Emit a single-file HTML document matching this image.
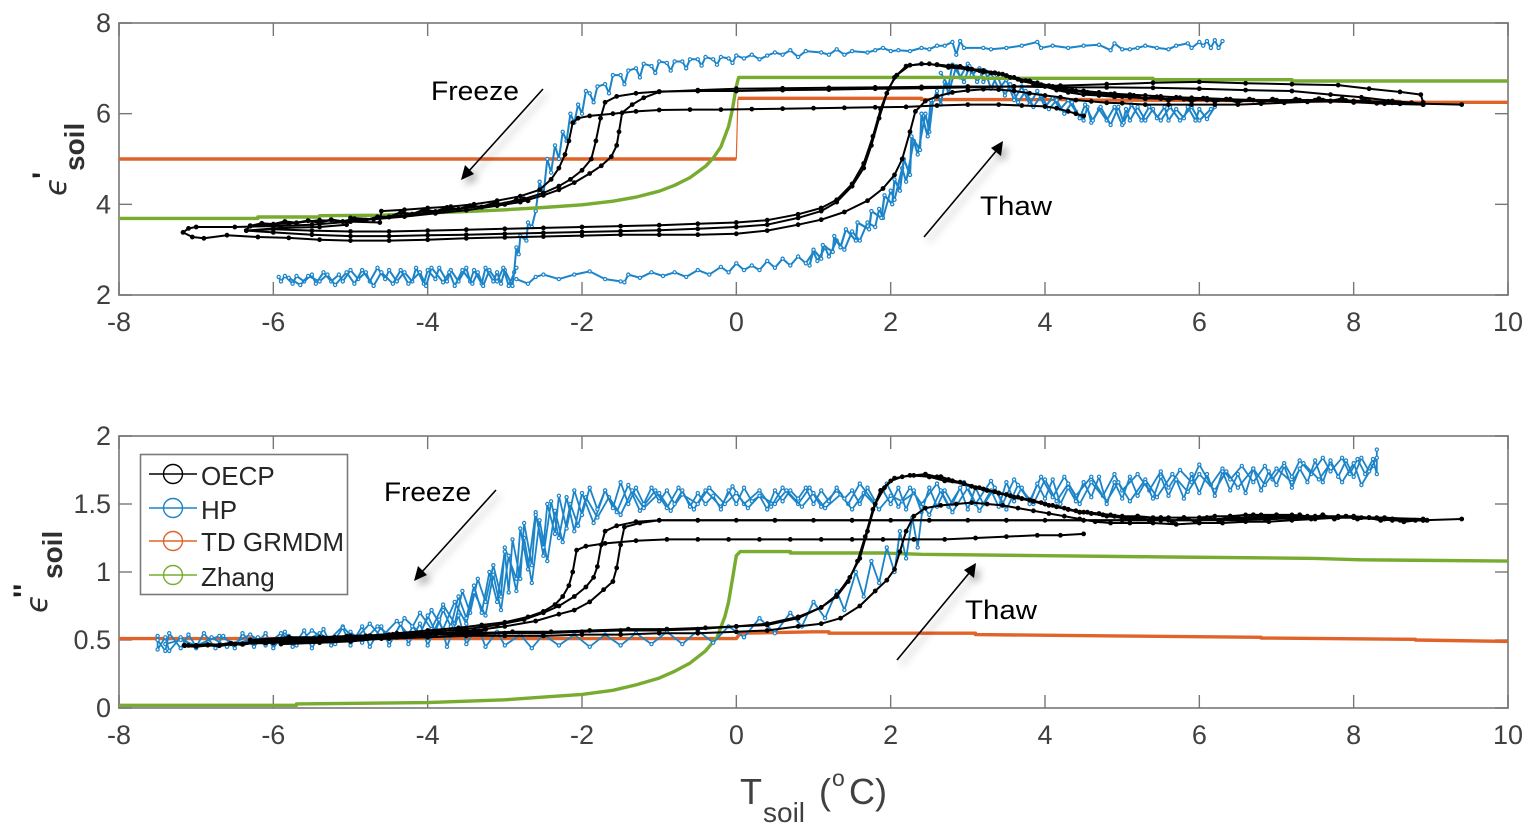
<!DOCTYPE html>
<html lang="en">
<head>
<meta charset="utf-8">
<title>Soil permittivity versus temperature</title>
<style>
html,body{margin:0;padding:0;background:#fff;width:1537px;height:837px;overflow:hidden}
svg{display:block}
text{font-family:"Liberation Sans",sans-serif}
.tick-label{font-size:27px;fill:#404040}
.note{font-size:27px;fill:#000}
.legend-text{font-size:26px;fill:#262626}
</style>
</head>
<body>
<svg id="chart" xmlns="http://www.w3.org/2000/svg" width="1537" height="837" viewBox="0 0 1537 837">
<defs>
<filter id="soft" x="-30%" y="-30%" width="170%" height="170%"><feDropShadow dx="4" dy="5" stdDeviation="4" flood-color="#000" flood-opacity="0.35"/></filter>
</defs>
<g id="plots"></g>
<g>
<text transform="translate(66,196) rotate(-90)" style="font-family:'DejaVu Sans',sans-serif;font-size:30px;font-style:italic" fill="#303030">ϵ</text>
<text transform="translate(53,179) rotate(-90)" style="font-size:30px;font-weight:bold" fill="#202020">'</text>
<text transform="translate(84,171) rotate(-90)" style="font-size:28px;font-weight:bold" fill="#303030">soil</text>
</g>
<g>
<text transform="translate(47,613) rotate(-90)" style="font-family:'DejaVu Sans',sans-serif;font-size:30px;font-style:italic" fill="#303030">ϵ</text>
<text transform="translate(34,598) rotate(-90)" style="font-size:30px;font-weight:bold" fill="#202020">''</text>
<text transform="translate(62,579) rotate(-90)" style="font-size:28px;font-weight:bold" fill="#303030">soil</text>
</g>
<g fill="#404040">
<text x="740" y="804" style="font-size:36px">T</text>
<text x="763" y="822" style="font-size:28px">soil</text>
<text x="819" y="804" style="font-size:36px">(</text>
<text x="832" y="786" style="font-size:23px">o</text>
<text x="849" y="804" style="font-size:36px">C)</text>
</g>
<g>
<text class="note" x="431" y="100" textLength="88" lengthAdjust="spacingAndGlyphs">Freeze</text>
<text class="note" x="980" y="215" textLength="72" lengthAdjust="spacingAndGlyphs">Thaw</text>
<text class="note" x="384" y="501" textLength="87" lengthAdjust="spacingAndGlyphs">Freeze</text>
<text class="note" x="965" y="619" textLength="72" lengthAdjust="spacingAndGlyphs">Thaw</text>
<g filter="url(#soft)"><line x1="543" y1="89" x2="468" y2="172" stroke="#000" stroke-width="1.6"/><polygon points="461,180 465,165 474,174" fill="#000"/></g>
<g filter="url(#soft)"><line x1="924" y1="237" x2="997" y2="150" stroke="#000" stroke-width="1.6"/><polygon points="1003,141 1001,156 991,148" fill="#000"/></g>
<g filter="url(#soft)"><line x1="496" y1="490" x2="421" y2="573" stroke="#000" stroke-width="1.6"/><polygon points="414,581 418,566 427,575" fill="#000"/></g>
<g filter="url(#soft)"><line x1="897" y1="660" x2="970" y2="572" stroke="#000" stroke-width="1.6"/><polygon points="976,563 974,578 964,570" fill="#000"/></g>
</g>
<g>
<rect x="140.500" y="454.500" width="207" height="140" fill="#fff" stroke="#7a7a7a" stroke-width="1.6"/>
<g><line x1="149" x2="197" y1="474" y2="474" stroke="#000" stroke-width="1.6"/><circle cx="173" cy="474" r="9.500" fill="none" stroke="#000" stroke-width="1.4"/><text class="legend-text" x="201" y="485">OECP</text></g>
<g><line x1="149" x2="197" y1="508" y2="508" stroke="#1b84c9" stroke-width="1.4"/><circle cx="173" cy="508" r="9.500" fill="none" stroke="#1b84c9" stroke-width="1.4"/><text class="legend-text" x="201" y="519">HP</text></g>
<g><line x1="149" x2="197" y1="541" y2="541" stroke="#e0632a" stroke-width="1.4"/><circle cx="173" cy="541" r="9.500" fill="none" stroke="#e0632a" stroke-width="1.4"/><text class="legend-text" x="201" y="551">TD GRMDM</text></g>
<g><line x1="149" x2="197" y1="575" y2="575" stroke="#77ac30" stroke-width="1.4"/><circle cx="173" cy="575" r="9.500" fill="none" stroke="#77ac30" stroke-width="1.4"/><text class="legend-text" x="201" y="586">Zhang</text></g>
</g>
</svg>
<script>
const xTickValues=[-8,-6,-4,-2,0,2,4,6,8,10];
const yTicksTop=[2,4,6,8];
const yTicksBottom=[0,0.5,1,1.5,2];
const yTickLabelsBottom=['0','0.5','1','1.5','2'];

/* ---- top panel, real part ---- */
const tdTopCold=[[-8,5],[0,5]];
const tdTopJump=[[0,5],[0.02,6.33]];
const tdTopWarm=[[0.02,6.34],[2.4,6.34],[2.4,6.31],[4.6,6.31],[4.6,6.3],[6.6,6.29],[8.6,6.27],[8.6,6.25],[10,6.25]];
const zhangTop=[[-8,3.69],[-6.2,3.69],[-6.2,3.72],[-5.4,3.72],[-5.4,3.75],[-4.6,3.76],[-4,3.81],[-3.5,3.84],[-3,3.88],[-2.5,3.93],[-2,3.99],[-1.6,4.07],[-1.3,4.16],[-1,4.29],[-0.8,4.42],[-0.6,4.59],[-0.4,4.84],[-0.3,5.02],[-0.2,5.27],[-0.1,5.72],[-0.05,6.1],[0,6.6],[0.03,6.8],[1,6.8],[3.2,6.8],[3.2,6.78],[5.4,6.78],[5.4,6.75],[7.2,6.75],[7.2,6.72],[10,6.72]];
const hpTopFreeze=[[6.3,7.6],[6.25,7.45],[6.2,7.62],[6.15,7.45],[6.1,7.6],[6.05,7.5],[6,7.58],[5.9,7.45],[5.85,7.55],[5.7,7.5],[5.6,7.42],[5.45,7.45],[5.3,7.5],[5.2,7.45],[5.1,7.42],[5,7.42],[4.9,7.55],[4.85,7.4],[4.7,7.52],[4.5,7.5],[4.3,7.45],[4.1,7.5],[3.95,7.45],[3.9,7.58],[3.7,7.5],[3.5,7.45],[3.3,7.42],[3.2,7.45],[2.95,7.45],[2.9,7.6],[2.85,7.3],[2.8,7.58],[2.7,7.5],[2.6,7.5],[2.5,7.42],[2.4,7.45],[2.25,7.38],[2.1,7.4],[2,7.38],[1.9,7.45],[1.8,7.4],[1.7,7.35],[1.5,7.38],[1.4,7.3],[1.3,7.42],[1.2,7.3],[1.1,7.35],[0.9,7.38],[0.8,7.25],[0.7,7.4],[0.6,7.3],[0.5,7.35],[0.4,7.28],[0.3,7.2],[0.2,7.3],[0.1,7.22],[0,7.28],[-0.05,7.12],[-0.1,7.22],[-0.2,7.25],[-0.25,7.08],[-0.3,7.2],[-0.4,7.25],[-0.45,7.06],[-0.5,7.2],[-0.6,7.2],[-0.65,7],[-0.7,7.15],[-0.8,7.15],[-0.85,6.95],[-0.9,7.12],[-1,7.15],[-1.05,6.9],[-1.1,7.05],[-1.2,7.1],[-1.25,6.8],[-1.3,7],[-1.4,6.95],[-1.45,6.65],[-1.5,6.85],[-1.6,6.85],[-1.65,6.45],[-1.7,6.65],[-1.8,6.6],[-1.85,6.25],[-1.9,6.45],[-1.95,6.5],[-2,6],[-2.05,6.2],[-2.1,5.8],[-2.15,6],[-2.2,5.4],[-2.25,5.6],[-2.3,5],[-2.35,5.3],[-2.4,4.7],[-2.45,5],[-2.5,4.2],[-2.55,4.5],[-2.6,3.85],[-2.65,3.5],[-2.7,3.6],[-2.72,3.2],[-2.8,3.3],[-2.82,2.9],[-2.85,3.05],[-2.88,2.5],[-2.9,2.2],[-3,2.55],[-3.05,2.25],[-3.1,2.5],[-3.15,2.3],[-3.25,2.6],[-3.3,2.25],[-3.4,2.55],[-3.45,2.3],[-3.5,2.6],[-3.6,2.3],[-3.7,2.55],[-3.75,2.3],[-3.85,2.6],[-3.9,2.35],[-4,2.55],[-4.05,2.25],[-4.15,2.6],[-4.2,2.3],[-4.3,2.5],[-4.4,2.3],[-4.5,2.55],[-4.55,2.35],[-4.65,2.6],[-4.75,2.3],[-4.8,2.5],[-4.9,2.35],[-5,2.55],[-5.1,2.3],[-5.15,2.45],[-5.25,2.3],[-5.35,2.5],[-5.45,2.25],[-5.5,2.45],[-5.6,2.3],[-5.7,2.42],[-5.75,2.25],[-5.85,2.42],[-5.9,2.3],[-5.93,2.4]];
const hpTopThaw=[[-2.85,2.35],[-2.7,2.25],[-2.6,2.4],[-2.5,2.45],[-2.3,2.35],[-2.1,2.45],[-1.9,2.52],[-1.7,2.35],[-1.5,2.3],[-1.45,2.28],[-1.4,2.45],[-1.25,2.38],[-1.1,2.5],[-0.95,2.42],[-0.8,2.5],[-0.65,2.4],[-0.5,2.55],[-0.35,2.45],[-0.2,2.62],[-0.1,2.5],[0,2.7],[0.1,2.55],[0.2,2.65],[0.3,2.55],[0.4,2.75],[0.5,2.6],[0.6,2.8],[0.7,2.65],[0.8,2.85],[0.9,2.7],[1,2.95],[1.05,2.75],[1.15,3.05],[1.2,2.85],[1.3,3.2],[1.4,3],[1.5,3.4],[1.6,3.2],[1.7,3.6],[1.8,3.5],[1.85,3.9],[1.9,3.7],[2,4.3],[2.05,4.1],[2.15,4.8],[2.2,4.5],[2.3,5.4],[2.35,5.1],[2.45,6],[2.5,5.6],[2.55,6.3],[2.6,6.5],[2.65,6.2],[2.7,6.7],[2.75,6.45],[2.85,7.05],[2.9,6.8],[3,7.1],[3.05,6.85],[3.15,7],[3.2,6.7],[3.3,6.9],[3.4,6.55],[3.5,6.75],[3.6,6.3],[3.7,6.6],[3.8,6.2],[3.9,6.5],[4,6.15],[4.1,6.35],[4.2,6.1],[4.3,6.3],[4.4,6.05],[4.5,5.85],[4.55,6.15],[4.6,5.8],[4.7,6.1],[4.8,5.85],[4.9,6.15],[5,5.75],[5.05,6.1],[5.1,5.85],[5.2,6.15],[5.3,5.85],[5.4,6.1],[5.45,5.9],[5.55,6.15],[5.6,5.85],[5.7,6.1],[5.8,5.9],[5.85,6.15],[5.95,5.85],[6,6.1],[6.1,5.88],[6.2,6.15]];
const hpTopColdExtra=[[-2.85,2.6],[-2.95,2.2],[-3.02,2.6],[-3.1,2.3],[-3.2,2.55],[-3.28,2.2],[-3.35,2.5],[-3.42,2.25],[-3.55,2.55],[-3.65,2.2],[-3.72,2.5],[-3.8,2.28],[-3.95,2.6],[-4.02,2.2],[-4.1,2.5],[-4.25,2.25],[-4.35,2.55],[-4.45,2.25],[-4.6,2.5],[-4.7,2.2],[-4.85,2.55],[-4.95,2.25],[-5.05,2.5],[-5.2,2.22],[-5.3,2.45],[-5.4,2.3],[-5.55,2.42],[-5.65,2.22],[-5.8,2.38]];
const hpTopRiseExtra=[[0.95,2.65],[1,3],[1.1,2.8],[1.12,3.1],[1.25,2.95],[1.27,3.3],[1.35,3.05],[1.42,3.45],[1.55,3.2],[1.57,3.6],[1.72,3.45],[1.75,3.85],[1.88,3.7],[1.92,4.2],[2.02,4],[2.05,4.55],[2.12,4.3],[2.17,5],[2.25,4.65],[2.27,5.5],[2.38,5.2],[2.4,6],[2.48,5.5],[2.52,6.3]];
const hpTopWarmExtra=[[2.65,6.9],[2.75,6.6],[2.8,7.08],[2.95,6.7],[3.02,7.05],[3.12,6.7],[3.22,6.95],[3.3,6.55],[3.38,6.85],[3.48,6.4],[3.55,6.65],[3.65,6.25],[3.75,6.5],[3.85,6.15],[3.95,6.4],[4.05,6.1],[4.15,6.3],[4.25,6],[4.35,6.25],[4.45,5.9],[4.52,6.2],[4.62,5.85],[4.72,6.15],[4.85,5.75],[4.95,6.15],[5.02,5.8],[5.12,6.2],[5.25,5.85],[5.35,6.15],[5.5,5.85],[5.62,6.15],[5.75,5.85],[5.9,6.15],[6,5.85],[6.15,6.1]];
const oecpTopA=[[4.5,5.95],[4.4,6],[4.3,6.05],[4.15,6.12],[4,6.16],[3.7,6.18],[3.4,6.2],[3,6.2],[2.6,6.18],[2.2,6.15],[1.8,6.14],[1.4,6.13],[1,6.12],[0.6,6.11],[0.2,6.1],[-0.2,6.09],[-0.6,6.09],[-1,6.08],[-1.3,6.05],[-1.6,6],[-1.9,5.95],[-2.05,5.9],[-2.12,5.8],[-2.17,5.4],[-2.22,5.1],[-2.3,4.8],[-2.4,4.55],[-2.55,4.32],[-2.8,4.18],[-3.1,4.08],[-3.4,4],[-3.7,3.95],[-4,3.92],[-4.3,3.88],[-4.6,3.85],[-4.62,3.6],[-5,3.62],[-5.4,3.65],[-5.8,3.58],[-6.3,3.53],[-6.35,3.42],[-6,3.38],[-5.5,3.33],[-5,3.3],[-4.5,3.3],[-4,3.32],[-3.5,3.33],[-3,3.35],[-2.5,3.37],[-2,3.39],[-1.5,3.41],[-1,3.43],[-0.5,3.46],[0,3.5],[0.4,3.55],[0.8,3.7],[1.1,3.85],[1.3,4.05],[1.5,4.4],[1.65,4.8],[1.75,5.3],[1.85,5.9],[1.95,6.45],[2.05,6.8],[2.2,7.05],[2.4,7.1],[2.6,7.08],[2.8,7.05],[3,7],[3.15,6.95],[3.3,6.9],[3.45,6.87],[3.6,6.8],[3.75,6.73],[3.9,6.68],[4.05,6.62],[4.2,6.57],[4.35,6.52],[4.5,6.5],[4.7,6.47],[4.9,6.44],[5.1,6.42],[5.3,6.4],[5.5,6.38],[5.7,6.36],[5.9,6.35],[6.1,6.34],[6.4,6.32],[6.7,6.3],[7,6.3],[7.3,6.3],[7.6,6.3],[7.9,6.29],[8.2,6.27],[8.5,6.25],[8.9,6.22],[9.4,6.2]];
const oecpTopB=[[8.9,6.25],[8.87,6.42],[8.6,6.48],[8.2,6.55],[7.8,6.63],[7.2,6.65],[6.6,6.67],[6,6.7],[5.4,6.68],[4.8,6.65],[4.2,6.62],[3.6,6.6],[3,6.58],[2.4,6.56],[1.8,6.55],[1.2,6.53],[0.6,6.52],[0,6.5],[-0.5,6.5],[-1,6.49],[-1.3,6.45],[-1.55,6.38],[-1.7,6.25],[-1.76,5.9],[-1.82,5.4],[-1.88,5],[-2,4.75],[-2.15,4.55],[-2.3,4.4],[-2.5,4.25],[-2.75,4.12],[-3.1,4],[-3.5,3.92],[-4,3.82],[-4.5,3.72],[-5,3.62],[-5.5,3.55],[-6,3.52],[-6.5,3.5],[-7,3.5],[-7.1,3.47],[-7.17,3.38],[-7.05,3.28],[-6.9,3.25],[-6.6,3.32],[-6.2,3.28],[-5.8,3.26],[-5.4,3.22],[-5,3.2],[-4.5,3.2],[-4,3.22],[-3.5,3.25],[-3,3.27],[-2.5,3.29],[-2,3.31],[-1.5,3.33],[-1,3.33],[-0.5,3.33],[0,3.35],[0.4,3.42],[0.8,3.55],[1.1,3.66],[1.4,3.83],[1.7,4.08],[1.9,4.35],[2.05,4.65],[2.15,5],[2.25,5.6],[2.32,6.05],[2.45,6.28],[2.6,6.38],[2.8,6.47],[3,6.51],[3.2,6.54],[3.4,6.53],[3.6,6.5],[3.8,6.45],[4,6.4],[4.2,6.36],[4.4,6.3],[4.6,6.27],[4.8,6.24],[5,6.23],[5.3,6.2],[5.6,6.2],[5.9,6.2],[6.2,6.2],[6.5,6.2],[6.8,6.22],[7.1,6.24],[7.4,6.26],[7.7,6.27],[8,6.25],[8.4,6.22],[8.9,6.2]];
const oecpTopC=[[8.9,6.22],[8.5,6.28],[8.1,6.36],[7.7,6.42],[7.2,6.5],[6.6,6.52],[6,6.55],[5.4,6.57],[4.8,6.58],[4.2,6.58],[3.6,6.6],[3,6.6],[2.4,6.59],[1.8,6.58],[1.2,6.57],[0.6,6.56],[0,6.55],[-0.5,6.52],[-1,6.48],[-1.2,6.35],[-1.35,6.2],[-1.48,6.02],[-1.52,5.6],[-1.55,5.3],[-1.62,5.05],[-1.75,4.85],[-1.9,4.68],[-2.1,4.48],[-2.3,4.32],[-2.5,4.2],[-2.8,4.05],[-3.1,3.97],[-3.5,3.87],[-3.9,3.8],[-4.3,3.73],[-4.7,3.67],[-5,3.7],[-5.05,3.55],[-5.4,3.5],[-5.9,3.48],[-6.35,3.42],[-6,3.45],[-5.5,3.42],[-5,3.4],[-4.5,3.4],[-4,3.42],[-3.5,3.44],[-3,3.46],[-2.5,3.48],[-2,3.5],[-1.5,3.52],[-1,3.54],[-0.5,3.57],[0,3.6],[0.4,3.65],[0.8,3.78],[1.1,3.92],[1.3,4.1],[1.5,4.45],[1.65,4.9],[1.77,5.5],[1.87,6.1],[1.97,6.55],[2.08,6.85],[2.25,7.07],[2.5,7.1],[2.75,7.02],[3,6.98],[3.2,6.92],[3.4,6.88],[3.55,6.8],[3.7,6.72],[3.85,6.66],[4,6.6],[4.15,6.52],[4.3,6.47],[4.5,6.42],[4.7,6.4],[4.9,6.37],[5.1,6.36],[5.3,6.34],[5.5,6.33],[5.8,6.32],[6.1,6.3],[6.5,6.28],[7,6.28],[7.5,6.3],[8,6.28],[8.5,6.24],[8.9,6.22]];
const oecpTopColdBand=[[-6.3,3.52],[-6.15,3.58],[-6,3.56],[-5.85,3.62],[-5.7,3.59],[-5.55,3.64],[-5.4,3.6],[-5.25,3.66],[-5.1,3.62],[-4.95,3.68],[-4.8,3.65],[-4.65,3.72],[-4.5,3.72],[-4.35,3.82],[-4.2,3.78],[-4.05,3.88],[-3.9,3.84],[-3.75,3.93],[-3.6,3.89],[-3.45,3.97],[-3.3,3.94],[-3.15,4.03],[-3,4],[-2.85,4.1],[-2.7,4.08]];
const oecpTopWarmBand=[[2.6,7.08],[2.75,7.05],[2.9,7.04],[3.05,6.98],[3.2,6.95],[3.35,6.9],[3.5,6.84],[3.65,6.76],[3.8,6.72],[3.95,6.64],[4.1,6.6],[4.25,6.54],[4.4,6.5],[4.55,6.47],[4.7,6.42],[4.85,6.43],[5,6.38],[5.15,6.4],[5.3,6.33],[5.45,6.37],[5.6,6.3],[5.75,6.35],[5.9,6.28],[6.05,6.34],[6.2,6.27],[6.35,6.32],[6.5,6.25],[6.65,6.32],[6.8,6.25],[6.95,6.32],[7.1,6.26],[7.25,6.32],[7.4,6.27],[7.55,6.33],[7.7,6.28],[7.85,6.33],[8,6.25],[8.15,6.3],[8.3,6.23],[8.45,6.27],[8.6,6.22],[8.75,6.24],[8.9,6.2]];

/* ---- bottom panel, imaginary part ---- */
const tdBottom=[[-8,0.51],[-2,0.51],[0,0.51],[0.05,0.55],[1,0.56],[1.2,0.56],[1.2,0.55],[3.1,0.55],[3.1,0.54],[4.9,0.53],[6.8,0.52],[6.8,0.515],[8.8,0.505],[8.8,0.5],[10,0.49]];
const zhangBottom=[[-8,0.02],[-5.7,0.02],[-5.7,0.03],[-4,0.04],[-3.5,0.05],[-3,0.06],[-2.5,0.08],[-2,0.1],[-1.6,0.13],[-1.3,0.17],[-1,0.22],[-0.8,0.27],[-0.6,0.33],[-0.4,0.42],[-0.25,0.52],[-0.15,0.67],[-0.1,0.78],[-0.05,0.95],[0,1.12],[0.05,1.15],[0.7,1.15],[0.7,1.14],[1.9,1.14],[2.4,1.13],[4,1.12],[5.6,1.11],[7.5,1.1],[8.1,1.09],[10,1.08]];
const hpBottomFreezeA=[[8.3,1.9],[8.3,1.72],[8.25,1.83],[8.15,1.72],[8.05,1.83],[7.95,1.72],[7.85,1.84],[7.7,1.74],[7.6,1.84],[7.45,1.72],[7.3,1.82],[7.2,1.7],[7.1,1.8],[6.95,1.68],[6.85,1.78],[6.7,1.66],[6.55,1.78],[6.4,1.68],[6.3,1.76],[6.15,1.64],[6,1.79],[5.9,1.66],[5.75,1.75],[5.6,1.62],[5.5,1.74],[5.35,1.6],[5.2,1.72],[5,1.6],[4.9,1.72],[4.75,1.56],[4.6,1.7],[4.4,1.56],[4.25,1.7],[4.1,1.55],[3.95,1.7],[3.8,1.52],[3.6,1.68],[3.45,1.5],[3.3,1.67],[3.1,1.5],[2.95,1.66],[2.75,1.48],[2.6,1.65],[2.4,1.5],[2.25,1.62],[2.1,1.48],[1.95,1.65],[1.8,1.5],[1.6,1.65],[1.45,1.5],[1.3,1.6],[1.1,1.48],[0.95,1.62],[0.8,1.5],[0.6,1.62],[0.45,1.48],[0.3,1.6],[0.1,1.5],[-0.05,1.63],[-0.2,1.48],[-0.4,1.6],[-0.55,1.46],[-0.75,1.62],[-0.9,1.47],[-1.05,1.6],[-1.25,1.45],[-1.4,1.64],[-1.55,1.44],[-1.7,1.6],[-1.85,1.36],[-2,1.58],[-2.1,1.3],[-2.2,1.55],[-2.3,1.25],[-2.4,1.52],[-2.5,1.12],[-2.6,1.44],[-2.7,1.02],[-2.8,1.32],[-2.85,0.95],[-3,1.18],[-3.05,0.82],[-3.15,1.05],[-3.25,0.78],[-3.35,0.95],[-3.45,0.7],[-3.55,0.86],[-3.65,0.62],[-3.8,0.76],[-3.95,0.58],[-4.1,0.7],[-4.25,0.54],[-4.4,0.64],[-4.6,0.52],[-4.75,0.62],[-4.95,0.5],[-5.1,0.6],[-5.3,0.49],[-5.5,0.57],[-5.7,0.46],[-5.9,0.55],[-6.1,0.46],[-6.3,0.54],[-6.6,0.45],[-6.8,0.52],[-7,0.44],[-7.2,0.52],[-7.35,0.42],[-7.4,0.52],[-7.5,0.43],[-7.5,0.53]];
const hpBottomFreezeB=[[8.25,1.78],[8.1,1.64],[8,1.8],[7.85,1.66],[7.7,1.8],[7.55,1.68],[7.35,1.8],[7.2,1.66],[7,1.76],[6.85,1.64],[6.7,1.76],[6.5,1.62],[6.35,1.74],[6.2,1.6],[6,1.72],[5.85,1.59],[5.65,1.72],[5.45,1.55],[5.3,1.68],[5.1,1.52],[4.95,1.66],[4.8,1.52],[4.6,1.66],[4.45,1.5],[4.3,1.65],[4.15,1.52],[4,1.68],[3.85,1.5],[3.65,1.64],[3.5,1.46],[3.35,1.62],[3.15,1.45],[3,1.62],[2.8,1.44],[2.65,1.6],[2.5,1.42],[2.3,1.58],[2.15,1.52],[2,1.56],[1.85,1.46],[1.65,1.58],[1.5,1.46],[1.35,1.57],[1.15,1.47],[1,1.58],[0.85,1.48],[0.65,1.6],[0.5,1.5],[0.3,1.56],[0.15,1.47],[0,1.58],[-0.15,1.5],[-0.35,1.62],[-0.5,1.5],[-0.7,1.57],[-0.85,1.45],[-1,1.58],[-1.2,1.47],[-1.35,1.6],[-1.5,1.42],[-1.65,1.55],[-1.8,1.4],[-1.95,1.55],[-2.05,1.34],[-2.15,1.5],[-2.25,1.22],[-2.35,1.45],[-2.45,1.08],[-2.55,1.38],[-2.65,0.92],[-2.75,1.25],[-2.85,0.86],[-2.95,1.12],[-3.05,0.72],[-3.15,0.98],[-3.25,0.68],[-3.4,0.85],[-3.5,0.62],[-3.65,0.78],[-3.8,0.58],[-3.95,0.72],[-4.1,0.55],[-4.3,0.66],[-4.45,0.52],[-4.65,0.6],[-4.85,0.48],[-5,0.56],[-5.2,0.47],[-5.4,0.55],[-5.6,0.49],[-5.8,0.53],[-6,0.47],[-6.2,0.52],[-6.5,0.47],[-6.7,0.53],[-7,0.46],[-7.2,0.5],[-7.4,0.47]];
const hpBottomFreezeC=[[-4.2,0.6],[-4.1,0.54],[-4,0.68],[-3.9,0.56],[-3.8,0.72],[-3.7,0.6],[-3.6,0.82],[-3.5,0.66],[-3.4,0.9],[-3.3,0.7],[-3.2,1],[-3.1,0.78],[-3,1.15],[-2.95,0.85],[-2.9,1.24],[-2.8,0.95],[-2.75,1.36],[-2.65,1.05],[-2.6,1.42],[-2.5,1.18],[-2.45,1.5],[-2.35,1.28],[-2.3,1.56],[-2.2,1.32],[-2.1,1.6],[-2,1.42],[-1.9,1.62],[-1.8,1.46],[-1.7,1.6],[-1.6,1.47],[-1.5,1.66],[-1.4,1.5],[-1.3,1.62],[-1.2,1.5],[-1.1,1.62],[-1,1.52],[-0.9,1.6],[-0.8,1.5],[-0.7,1.6],[-0.6,1.48],[-0.5,1.58],[-0.4,1.5],[-0.3,1.56],[-0.2,1.46],[-0.1,1.6],[0,1.5],[0.1,1.62],[0.2,1.52],[0.3,1.56],[0.4,1.46],[0.5,1.6],[0.6,1.52],[0.7,1.6],[0.8,1.54],[0.9,1.62],[1,1.5],[1.1,1.6],[1.2,1.52],[1.3,1.62],[1.4,1.54],[1.5,1.6],[1.6,1.5],[1.7,1.62],[1.8,1.52],[1.9,1.6],[2,1.5],[2.1,1.62],[2.2,1.46],[2.3,1.6],[2.4,1.44],[2.5,1.62],[2.6,1.48],[2.7,1.6],[2.8,1.5],[2.9,1.62],[3,1.46],[3.1,1.62],[3.2,1.5],[3.3,1.6],[3.4,1.48],[3.5,1.66],[3.6,1.52],[3.7,1.62],[3.8,1.5],[3.9,1.65],[4,1.54],[4.1,1.68],[4.2,1.5],[4.3,1.62],[4.4,1.52],[4.5,1.66],[4.6,1.55],[4.7,1.7],[4.8,1.5],[4.9,1.66],[5,1.54],[5.1,1.7],[5.2,1.56],[5.3,1.66],[5.4,1.54],[5.5,1.7],[5.6,1.56],[5.7,1.68],[5.8,1.54],[5.9,1.72],[6,1.58],[6.1,1.72],[6.2,1.56],[6.3,1.74],[6.4,1.6],[6.5,1.72],[6.6,1.58],[6.7,1.76],[6.8,1.6],[6.9,1.74],[7,1.64],[7.1,1.78],[7.2,1.62],[7.3,1.76],[7.4,1.66],[7.5,1.82],[7.6,1.66],[7.7,1.82],[7.8,1.7],[7.9,1.82],[8,1.7],[8.1,1.84],[8.2,1.74],[8.3,1.84]];
const hpBottomColdNoise=[[-7.5,0.5],[-7.4,0.42],[-7.35,0.55],[-7.2,0.44],[-7.1,0.54],[-7,0.45],[-6.9,0.55],[-6.75,0.44],[-6.65,0.53],[-6.5,0.44],[-6.4,0.55],[-6.25,0.45],[-6.1,0.55],[-6,0.44],[-5.85,0.56],[-5.75,0.45],[-5.6,0.57],[-5.5,0.44],[-5.35,0.58],[-5.25,0.46],[-5.1,0.59],[-5,0.46],[-4.85,0.6],[-4.75,0.45],[-4.6,0.6],[-4.5,0.46],[-4.35,0.62],[-4.25,0.47],[-4.1,0.62],[-4,0.46],[-3.85,0.65],[-3.75,0.45],[-3.6,0.68],[-3.5,0.47],[-3.35,0.6],[-3.25,0.45],[-3.1,0.56],[-3,0.46],[-2.8,0.54],[-2.65,0.44],[-2.5,0.54],[-2.3,0.46],[-2.1,0.54],[-1.9,0.45],[-1.7,0.54],[-1.5,0.46],[-1.3,0.55],[-1.1,0.47],[-0.9,0.56],[-0.7,0.47],[-0.5,0.57],[-0.3,0.48],[-0.1,0.6],[0.1,0.52],[0.3,0.66],[0.5,0.55],[0.7,0.7],[0.85,0.6],[1,0.78],[1.15,0.66],[1.3,0.86],[1.4,0.72],[1.55,1],[1.65,0.82],[1.75,1.08],[1.85,0.92],[1.95,1.18],[2.05,1],[2.12,1.3],[2.2,1.1],[2.28,1.4],[2.35,1.18],[2.42,1.5]];
const oecpBottomA=[[4.5,1.28],[4.2,1.27],[3.9,1.27],[3.5,1.26],[3.1,1.25],[2.7,1.24],[2.3,1.24],[1.9,1.24],[1.5,1.24],[1.1,1.24],[0.7,1.24],[0.3,1.24],[-0.1,1.24],[-0.5,1.24],[-0.9,1.24],[-1.3,1.23],[-1.7,1.21],[-1.95,1.19],[-2.07,1.16],[-2.12,1],[-2.17,0.9],[-2.25,0.82],[-2.35,0.76],[-2.5,0.71],[-2.7,0.67],[-3,0.63],[-3.3,0.61],[-3.6,0.59],[-4,0.57],[-4.4,0.55],[-4.8,0.53],[-5.2,0.52],[-5.6,0.51],[-6,0.5],[-6.3,0.5],[-5.8,0.52],[-5.4,0.52],[-5,0.53],[-4.5,0.54],[-4,0.54],[-3.5,0.54],[-3,0.55],[-2.5,0.55],[-2,0.56],[-1.5,0.57],[-1,0.57],[-0.5,0.58],[0,0.6],[0.4,0.61],[0.8,0.66],[1.1,0.74],[1.3,0.82],[1.45,0.93],[1.57,1.08],[1.67,1.26],[1.77,1.46],[1.87,1.6],[2,1.67],[2.15,1.7],[2.3,1.71],[2.45,1.72],[2.6,1.7],[2.75,1.68],[2.9,1.66],[3.05,1.63],[3.2,1.61],[3.35,1.59],[3.5,1.57],[3.65,1.55],[3.8,1.53],[3.95,1.51],[4.1,1.49],[4.25,1.47],[4.4,1.45],[4.55,1.44],[4.7,1.43],[4.85,1.42],[5,1.41],[5.2,1.41],[5.4,1.4],[5.6,1.4],[5.8,1.4],[6,1.4],[6.2,1.41],[6.4,1.41],[6.6,1.42],[6.8,1.42],[7,1.42],[7.2,1.42],[7.4,1.41],[7.6,1.41],[7.8,1.41],[8,1.41],[8.2,1.4],[8.4,1.39],[8.6,1.38],[8.9,1.38],[9.4,1.39]];
const oecpBottomB=[[8.9,1.38],[8.4,1.4],[8,1.4],[7.5,1.41],[7,1.4],[6.5,1.39],[6,1.38],[5.5,1.38],[5,1.38],[4.5,1.38],[4,1.38],[3.5,1.38],[3,1.38],[2.5,1.38],[2,1.38],[1.5,1.38],[1,1.38],[0.5,1.38],[0,1.38],[-0.5,1.38],[-1,1.38],[-1.3,1.37],[-1.55,1.34],[-1.7,1.3],[-1.75,1.2],[-1.8,1.04],[-1.85,0.96],[-1.95,0.89],[-2.1,0.82],[-2.3,0.75],[-2.5,0.7],[-2.75,0.65],[-3.1,0.61],[-3.5,0.58],[-3.9,0.56],[-4.3,0.54],[-4.7,0.52],[-5.1,0.5],[-5.5,0.49],[-6,0.48],[-6.5,0.47],[-7.1,0.46],[-7,0.46],[-6.5,0.47],[-6,0.48],[-5.5,0.49],[-5,0.5],[-4.5,0.51],[-4,0.52],[-3.5,0.53],[-3,0.53],[-2.5,0.53],[-2,0.54],[-1.5,0.54],[-1,0.55],[-0.5,0.55],[0,0.56],[0.4,0.57],[0.8,0.6],[1.1,0.62],[1.35,0.66],[1.6,0.75],[1.8,0.86],[1.95,0.94],[2.05,1.02],[2.12,1.15],[2.2,1.3],[2.3,1.41],[2.45,1.47],[2.65,1.49],[2.85,1.5],[3.05,1.51],[3.25,1.5],[3.45,1.49],[3.65,1.47],[3.85,1.45],[4.05,1.43],[4.25,1.41],[4.45,1.39],[4.65,1.37],[4.85,1.36],[5.1,1.36],[5.4,1.36],[5.7,1.35],[6,1.36],[6.3,1.36],[6.6,1.37],[6.9,1.37],[7.2,1.38],[7.5,1.39],[7.8,1.4],[8.1,1.4],[8.5,1.38],[8.9,1.38]];
const oecpBottomC=[[8.9,1.39],[8.3,1.4],[7.5,1.4],[6.5,1.38],[5.5,1.38],[4.5,1.38],[3.5,1.38],[2.5,1.38],[1.5,1.38],[0.5,1.38],[-0.5,1.38],[-1,1.38],[-1.25,1.36],[-1.45,1.33],[-1.5,1.2],[-1.55,1.03],[-1.6,0.93],[-1.72,0.87],[-1.9,0.78],[-2.1,0.72],[-2.3,0.69],[-2.6,0.64],[-3,0.6],[-3.4,0.57],[-3.8,0.55],[-4.2,0.53],[-4.6,0.51],[-5,0.49],[-5.4,0.48],[-5.9,0.47],[-5.4,0.49],[-4.9,0.51],[-4.4,0.52],[-3.9,0.54],[-3.4,0.55],[-2.9,0.56],[-2.4,0.56],[-1.9,0.57],[-1.4,0.58],[-0.9,0.58],[-0.4,0.59],[0,0.6],[0.4,0.62],[0.8,0.67],[1.1,0.74],[1.3,0.83],[1.47,0.96],[1.6,1.1],[1.7,1.3],[1.8,1.5],[1.92,1.62],[2.05,1.69],[2.25,1.71],[2.5,1.7],[2.7,1.67],[2.95,1.65],[3.15,1.62],[3.4,1.58],[3.6,1.55],[3.85,1.52],[4.05,1.49],[4.3,1.46],[4.5,1.44],[4.8,1.41],[5.2,1.39],[5.6,1.38],[6,1.38],[6.5,1.4],[7,1.41],[7.5,1.4],[8,1.4],[8.5,1.38],[8.9,1.38]];
const oecpBottomColdBand=[[-7.15,0.46],[-7,0.455],[-6.85,0.465],[-6.7,0.46],[-6.55,0.475],[-6.4,0.47],[-6.25,0.485],[-6.1,0.48],[-5.95,0.495],[-5.8,0.485],[-5.65,0.505],[-5.5,0.495],[-5.35,0.515],[-5.2,0.505],[-5.05,0.525],[-4.9,0.51],[-4.75,0.53],[-4.6,0.515],[-4.45,0.54],[-4.3,0.525],[-4.15,0.55],[-4,0.535],[-3.85,0.56],[-3.7,0.54],[-3.55,0.57],[-3.4,0.55],[-3.25,0.58]];
const oecpBottomWarmBand=[[2.5,1.7],[2.65,1.7],[2.8,1.67],[2.95,1.65],[3.1,1.62],[3.25,1.6],[3.4,1.58],[3.55,1.56],[3.7,1.54],[3.85,1.52],[4,1.5],[4.15,1.48],[4.3,1.46],[4.45,1.44],[4.6,1.43],[4.75,1.42],[4.9,1.41],[5.05,1.39],[5.2,1.41],[5.35,1.38],[5.5,1.4],[5.65,1.37],[5.8,1.4],[5.95,1.37],[6.1,1.4],[6.25,1.38],[6.4,1.41],[6.55,1.38],[6.7,1.42],[6.85,1.39],[7,1.42],[7.15,1.4],[7.3,1.42],[7.45,1.39],[7.6,1.42],[7.75,1.39],[7.9,1.41],[8.05,1.39],[8.2,1.4],[8.35,1.38],[8.5,1.39],[8.65,1.37],[8.8,1.38],[8.95,1.38]];

const X0=119,X1=1508,TOP0=23,TOP1=295,BOT0=436,BOT1=708;
function xScale(v){return X0+(v+8)*(X1-X0)/18;}
function yTopScale(v){return TOP0+(8-v)*(TOP1-TOP0)/6;}
function yBottomScale(v){return BOT0+(2-v)*(BOT1-BOT0)/2;}
const NS='http://www.w3.org/2000/svg';
const plots=document.getElementById('plots');

function svgEl(tag,attrs,parent){
  const el=document.createElementNS(NS,tag);
  for(const k in attrs){el.setAttribute(k,attrs[k]);}
  parent.appendChild(el);
  return el;
}
function drawAxes(y0,y1,yScale,ticks,labels,name){
  const g=svgEl('g',{},plots);
  
  
  const frame=svgEl('rect',{x:X0,y:y0,width:X1-X0,height:y1-y0,fill:'none',stroke:'#868686','stroke-width':1.8},g);
  
  
  xTickValues.forEach(function(v){
    const x=xScale(v);
    const t1=svgEl('line',{x1:x,x2:x,y1:y0,y2:y0+13,stroke:'#777','stroke-width':1.4},g);
    
    
    const t2=svgEl('line',{x1:x,x2:x,y1:y1,y2:y1-13,stroke:'#777','stroke-width':1.4},g);
    
    
    const label=svgEl('text',{x:x,y:y1+36,'text-anchor':'middle','class':'tick-label'},g);
    
    
    label.textContent=String(v);
  });
  ticks.forEach(function(v,i){
    const y=yScale(v);
    const t1=svgEl('line',{x1:X0,x2:X0+13,y1:y,y2:y,stroke:'#777','stroke-width':1.4},g);
    
    
    const t2=svgEl('line',{x1:X1,x2:X1-13,y1:y,y2:y,stroke:'#777','stroke-width':1.4},g);
    
    
    const label=svgEl('text',{x:X0-8,y:y+9,'text-anchor':'end','class':'tick-label'},g);
    
    
    label.textContent=labels[i];
  });
}
function pathPoints(data,yScale){
  return data.map(function(p){return xScale(p[0]).toFixed(1)+','+yScale(p[1]).toFixed(1);}).join(' ');
}
function drawBand(data,yScale,color,width,name){
  const line=svgEl('polyline',{points:pathPoints(data,yScale),fill:'none',stroke:color,'stroke-width':width,'stroke-linejoin':'round'},plots);
  
  
}
function drawMarked(data,yScale,color,lineWidth,r,hollow,name){
  const g=svgEl('g',{},plots);
  
  
  svgEl('polyline',{points:pathPoints(data,yScale),fill:'none',stroke:color,'stroke-width':lineWidth,'stroke-linejoin':'round'},g);
  data.forEach(function(p){
    const c=svgEl('circle',{cx:xScale(p[0]).toFixed(1),cy:yScale(p[1]).toFixed(1),r:r,fill:hollow?'#fff':color,stroke:color,'stroke-width':hollow?1.2:0.6},g);
    
    
  });
}
const BLUE='#1b84c9',ORANGE='#e0632a',GREEN='#77ac30',BLACK='#000';

drawAxes(TOP0,TOP1,yTopScale,yTicksTop,yTicksTop.map(String),'top-panel');
drawBand(tdTopCold,yTopScale,ORANGE,3.4,'td-grmdm-top-frozen');
drawBand(tdTopJump,yTopScale,ORANGE,1.2,'td-grmdm-top-jump');
drawBand(tdTopWarm,yTopScale,ORANGE,3.4,'td-grmdm-top-thawed');
drawMarked(hpTopFreeze,yTopScale,BLUE,2,1.6,true,'hp-top-freeze');
drawMarked(hpTopThaw,yTopScale,BLUE,2,1.6,true,'hp-top-thaw');
drawMarked(hpTopColdExtra,yTopScale,BLUE,2,1.6,true,'hp-top-cold-pass');
drawMarked(hpTopRiseExtra,yTopScale,BLUE,2.2,1.6,true,'hp-top-rise-pass');
drawMarked(hpTopWarmExtra,yTopScale,BLUE,2,1.6,true,'hp-top-warm-pass');
drawBand(zhangTop,yTopScale,GREEN,3.4,'zhang-top');
drawMarked(oecpTopColdBand,yTopScale,BLACK,2.4,2.2,false,'oecp-top-cold-band');
drawMarked(oecpTopWarmBand,yTopScale,BLACK,2.4,2.2,false,'oecp-top-warm-band');
drawMarked(oecpTopA,yTopScale,BLACK,2,2.1,false,'oecp-top-cycle-1');
drawMarked(oecpTopB,yTopScale,BLACK,2,2.1,false,'oecp-top-cycle-2');
drawMarked(oecpTopC,yTopScale,BLACK,2,2.1,false,'oecp-top-cycle-3');

drawAxes(BOT0,BOT1,yBottomScale,yTicksBottom,yTickLabelsBottom,'bottom-panel');
drawBand(tdBottom,yBottomScale,ORANGE,3.4,'td-grmdm-bottom');
drawBand(zhangBottom,yBottomScale,GREEN,3.4,'zhang-bottom');
drawMarked(hpBottomFreezeA,yBottomScale,BLUE,1.8,1.6,true,'hp-bottom-freeze-1');
drawMarked(hpBottomFreezeB,yBottomScale,BLUE,1.8,1.6,true,'hp-bottom-freeze-2');
drawMarked(hpBottomFreezeC,yBottomScale,BLUE,1.8,1.6,true,'hp-bottom-freeze-3');
drawMarked(hpBottomColdNoise,yBottomScale,BLUE,1.8,1.6,true,'hp-bottom-thaw');
drawMarked(oecpBottomColdBand,yBottomScale,BLACK,3.4,2.4,false,'oecp-bottom-cold-band');
drawMarked(oecpBottomWarmBand,yBottomScale,BLACK,2.4,2.2,false,'oecp-bottom-warm-band');
drawMarked(oecpBottomA,yBottomScale,BLACK,2,2.1,false,'oecp-bottom-cycle-1');
drawMarked(oecpBottomB,yBottomScale,BLACK,2,2.1,false,'oecp-bottom-cycle-2');
drawMarked(oecpBottomC,yBottomScale,BLACK,2,2.1,false,'oecp-bottom-cycle-3');
</script>
</body>
</html>
